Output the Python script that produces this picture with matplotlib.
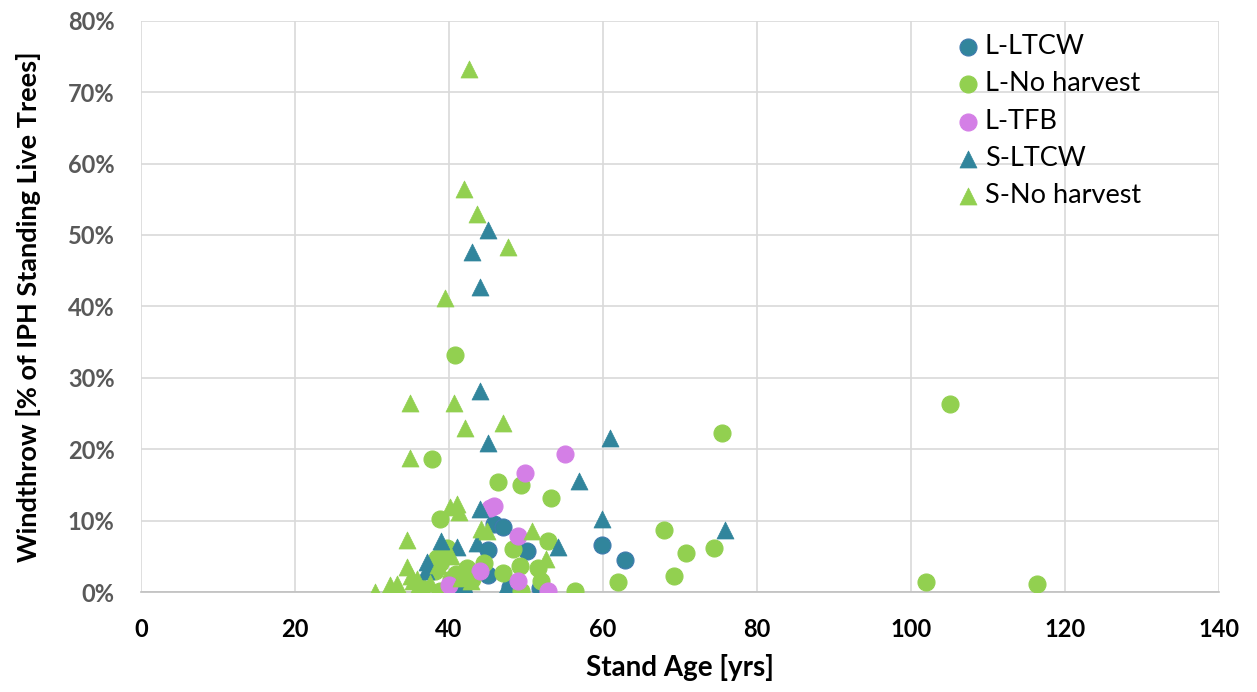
import matplotlib
matplotlib.use("Agg")
import matplotlib.pyplot as plt
from matplotlib.ticker import FuncFormatter, MultipleLocator
from matplotlib.patches import Rectangle

plt.rcParams['font.family'] = ['Lato', 'DejaVu Sans']

# L-LTCW (circles, teal)
l_ltcw_x = [45.9, 47.0, 45.0, 50.1, 59.9, 62.9, 45.0, 41.8, 47.9, 51.8]
l_ltcw_y = [9.5, 9.1, 5.9, 5.7, 6.6, 4.5, 2.4, 0.0, 0.7, 0.6]

# L-No harvest (circles, green)
l_nh_x = [40.8, 37.8, 46.3, 49.3, 53.3, 38.8, 52.9, 48.3, 39.8, 38.4, 38.8, 38.2,
          40.9, 42.4, 44.6, 47.0, 49.2, 51.5, 52.0, 43.0, 49.4, 38.8, 56.3, 67.9,
          70.8, 74.4, 69.2, 62.0, 75.4, 105.0, 102.0, 116.3, 40.2, 36.5]
l_nh_y = [33.2, 18.6, 15.4, 15.0, 13.2, 10.2, 7.1, 6.0, 6.2, 4.8, 4.0, 3.0,
          2.5, 3.4, 4.0, 2.7, 3.6, 3.4, 1.5, 1.8, 0.1, 0.1, 0.1, 8.7,
          5.5, 6.1, 2.3, 1.4, 22.2, 26.3, 1.4, 1.1, 1.8, 0.5]

# L-TFB (circles, pink)
l_tfb_x = [55.0, 49.9, 45.9, 45.3, 48.9, 44.0, 40.0, 48.9, 52.9]
l_tfb_y = [19.3, 16.7, 12.1, 11.8, 7.8, 2.9, 1.0, 1.5, 0.1]

# S-LTCW (triangles, teal)
s_ltcw_x = [45.0, 43.0, 44.0, 44.0, 45.0, 60.9, 56.9, 44.0, 59.9, 75.9, 38.9,
            41.1, 43.7, 54.1, 37.0, 37.2, 42.3, 47.2]
s_ltcw_y = [50.7, 47.6, 42.7, 28.1, 20.9, 21.6, 15.5, 11.6, 10.2, 8.7, 7.1,
            6.3, 6.8, 6.3, 3.0, 4.2, 0.1, 0.2]

# S-No harvest (triangles, green)
s_nh_x = [42.6, 41.9, 43.7, 47.6, 39.5, 34.9, 40.6, 42.1, 47.0, 34.9, 40.1, 41.0,
          41.3, 44.2, 44.9, 50.8, 34.5, 52.6, 34.5, 35.0, 33.2, 32.3, 30.4, 35.3,
          35.9, 36.4, 37.5, 38.6, 40.2, 41.6, 42.8, 35.8]
s_nh_y = [73.3, 56.5, 53.0, 48.3, 41.2, 26.5, 26.5, 23.0, 23.7, 18.8, 11.9, 12.3,
          11.2, 8.8, 8.6, 8.5, 7.3, 4.6, 3.5, 2.3, 1.1, 1.0, 0.0, 1.5,
          0.5, 0.1, 1.2, 3.8, 5.0, 2.0, 1.5, 1.8]

TEAL = '#31859C'
GREEN = '#92D050'
PINK = '#D47FE6'

fig = plt.figure(figsize=(12.57, 6.92), dpi=100)
ax = fig.add_axes([141/1257, 1-592/692, 1078/1257, 571.3/692])

ms = 150
ax.scatter(l_ltcw_x, l_ltcw_y, s=ms, marker='o', color=TEAL, edgecolors='#3F7AAE',
           linewidths=0.8, label='L-LTCW', zorder=3)
ax.scatter(l_nh_x, l_nh_y, s=ms, marker='o', color=GREEN, edgecolors=GREEN,
           linewidths=0.8, label='L-No harvest', zorder=3)
ax.scatter(l_tfb_x, l_tfb_y, s=ms, marker='o', color=PINK, edgecolors=PINK,
           linewidths=0.8, label='L-TFB', zorder=3)
ax.scatter(s_ltcw_x, s_ltcw_y, s=ms, marker='^', color=TEAL, edgecolors=TEAL,
           linewidths=0.5, label='S-LTCW', zorder=3)
ax.scatter(s_nh_x, s_nh_y, s=ms, marker='^', color=GREEN, edgecolors=GREEN,
           linewidths=0.5, label='S-No harvest', zorder=3)

ax.set_xlim(0, 140)
ax.set_ylim(0, 80)
ax.xaxis.set_major_locator(MultipleLocator(20))
ax.yaxis.set_major_locator(MultipleLocator(10))
ax.yaxis.set_major_formatter(FuncFormatter(lambda v, p: f"{v:.0f}%"))
ax.grid(True, color='#D9D9D9', linewidth=1.2, zorder=0)
ax.set_axisbelow(True)
for s in ['top', 'right', 'left']:
    ax.spines[s].set_visible(False)
ax.spines['bottom'].set_color('#BFBFBF')
ax.spines['bottom'].set_linewidth(1.2)
ax.tick_params(axis='x', length=0, labelsize=17, labelcolor='black', pad=19)
ax.tick_params(axis='y', length=0, labelsize=17, labelcolor='#595959', pad=19)
for lab in ax.get_xticklabels() + ax.get_yticklabels():
    lab.set_fontweight('bold')

ax.set_xlabel('Stand Age [yrs]', fontsize=20, fontweight='bold', labelpad=9)
ax.set_ylabel('Windthrow [% of IPH Standing Live Trees]', fontsize=19.5,
              fontweight='bold', labelpad=19)

# white legend background area (as in the original Excel legend box)
ax.add_patch(Rectangle((0.70, 0.672), 0.245, 0.32, transform=ax.transAxes,
                       facecolor='white', edgecolor='none', zorder=0.5))

leg = ax.legend(loc='upper left', bbox_to_anchor=(0.745, 1.0), fontsize=19.5,
                frameon=False, handletextpad=0.2, labelspacing=0.45,
                borderpad=0.0, handlelength=0.8, markerscale=1.0)
leg.set_zorder(5)

fig.savefig('out.png', dpi=100)
